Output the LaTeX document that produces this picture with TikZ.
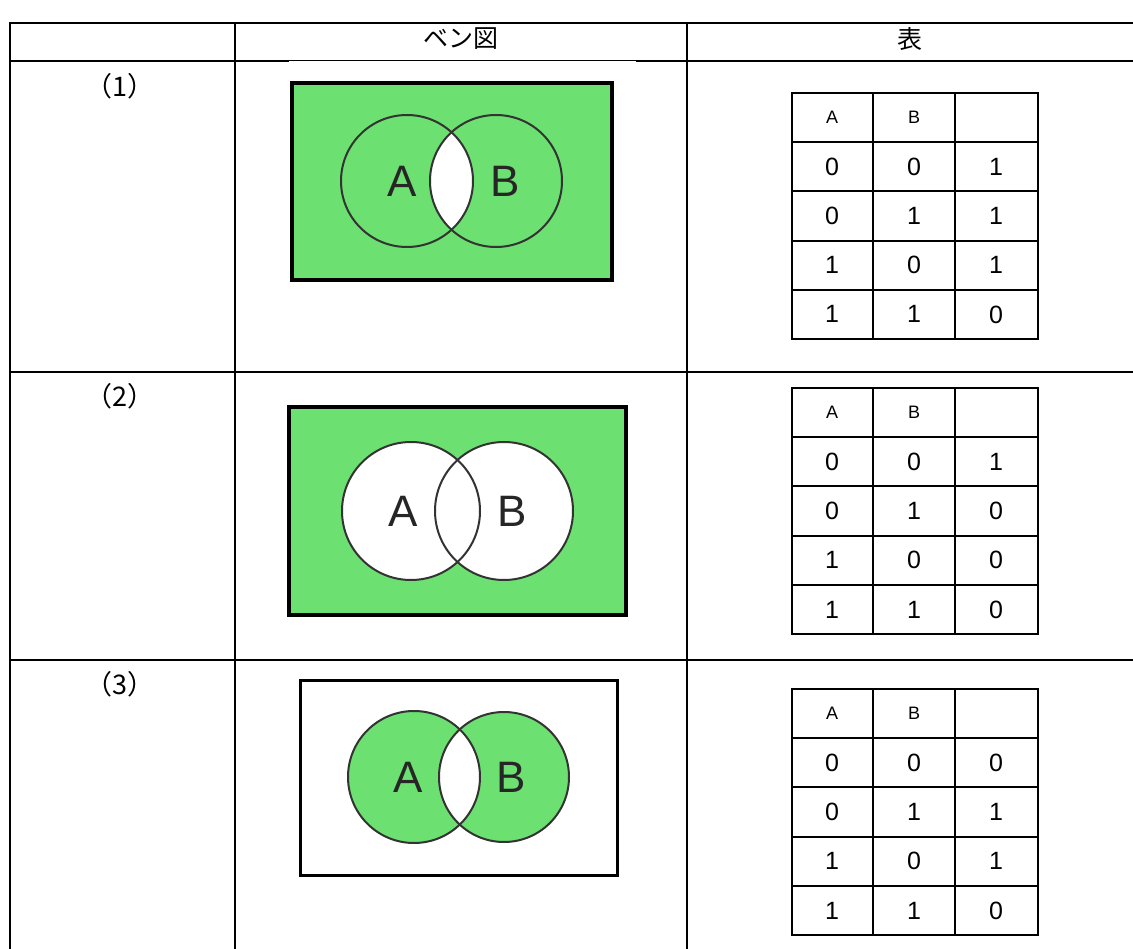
\documentclass[tikz,border=0pt]{standalone}
\usepackage{fontspec}
\setmainfont{Liberation Sans}
\newfontfamily\cjk{Noto Sans CJK JP}
\definecolor{venngreen}{RGB}{108,224,112}
\tikzset{
  gridline/.style={line width=2pt, black},
  thinline/.style={line width=1pt, black},
  vframe/.style={line width=4pt, black},
  circline/.style={draw=black!80, line width=2pt},
  ttline/.style={line width=2pt, black},
  cjklabel/.style={font=\cjk\fontsize{25}{25}\selectfont, inner sep=0pt},
  numlabel/.style={font=\cjk\fontsize{27}{27}\selectfont, inner sep=0pt},
  ttdigit/.style={font=\fontsize{25}{25}\selectfont, inner sep=0pt},
  tthead/.style={font=\fontsize{18}{18}\selectfont, inner sep=0pt},
  vennletter/.style={font=\fontsize{44}{44}\selectfont, inner sep=0pt, text=black!85},
}
% truth table: #1 name, #2 top y, #3-#6 outputs
\newcommand\mytruthtable[6]{%
  \draw[ttline] (792,#2) rectangle (1038,#2+246);
  \draw[ttline] (873,#2) -- (873,#2+246);
  \draw[ttline] (955,#2) -- (955,#2+246);
  \foreach \k in {1,...,4}{\draw[ttline] (792,#2+\k*49.2) -- (1038,#2+\k*49.2);}
  \node[tthead] (#1hA) at (832,#2+24.6) {A};
  \node[tthead] (#1hB) at (914,#2+24.6) {B};
  \node[ttdigit] (#1a1) at (832,#2+73.8) {0};
  \node[ttdigit] (#1b1) at (914,#2+73.8) {0};
  \node[ttdigit] (#1o1) at (996,#2+73.8) {#3};
  \node[ttdigit] (#1a2) at (832,#2+123) {0};
  \node[ttdigit] (#1b2) at (914,#2+123) {1};
  \node[ttdigit] (#1o2) at (996,#2+123) {#4};
  \node[ttdigit] (#1a3) at (832,#2+172.2) {1};
  \node[ttdigit] (#1b3) at (914,#2+172.2) {0};
  \node[ttdigit] (#1o3) at (996,#2+172.2) {#5};
  \node[ttdigit] (#1a4) at (832,#2+221.4) {1};
  \node[ttdigit] (#1b4) at (914,#2+221.4) {1};
  \node[ttdigit] (#1o4) at (996,#2+221.4) {#6};
}
\begin{document}
\begin{tikzpicture}[x=1pt,y=-1pt]
\useasboundingbox (0,0) rectangle (1133,949);
\fill[white] (0,0) rectangle (1133,949);

% ---- outer table ----
\draw[gridline] (10,23) -- (1134,23);
\draw[gridline] (10,22) -- (10,950);
\draw[gridline] (235,22) -- (235,950);
\draw[gridline] (687,22) -- (687,950);
\draw[gridline] (9,61) -- (289,61);
\draw[thinline] (289,60.5) -- (636,60.5);
\draw[gridline] (636,61) -- (1134,61);
\draw[gridline] (9,372) -- (1134,372);
\draw[gridline] (9,660) -- (1134,660);

\node[cjklabel] (hv) at (461,39) {ベン図};
\node[cjklabel] (ht) at (910,39) {表};
\node[numlabel] (l1) at (120,86) {（1）};
\node[numlabel] (l2) at (120,396) {（2）};
\node[numlabel] (l3) at (120,684) {（3）};

% ---- Venn 1 ----
\fill[venngreen] (292,83) rectangle (612,280);
\begin{scope}
  \clip (407,181) circle (66);
  \fill[white] (496,181) circle (66);
\end{scope}
\draw[circline] (407,181) circle (66);
\draw[circline] (496,181) circle (66);
\draw[vframe] (292,83) rectangle (612,280);
\node[vennletter] (v1a) at (402,181) {A};
\node[vennletter] (v1b) at (505,181) {B};

% ---- Venn 2 ----
\fill[venngreen] (289,407) rectangle (626,615);
\fill[white] (411,511) circle (69);
\fill[white] (504,511) circle (69);
\draw[circline] (411,511) circle (69);
\draw[circline] (504,511) circle (69);
\draw[vframe] (289,407) rectangle (626,615);
\node[vennletter] (v2a) at (403,511) {A};
\node[vennletter] (v2b) at (512,511) {B};

% ---- Venn 3 ----
\fill[venngreen] (414,777) circle (66);
\fill[venngreen] (504,777) circle (65);
\begin{scope}
  \clip (414,777) circle (66);
  \fill[white] (504,777) circle (65);
\end{scope}
\draw[circline] (414,777) circle (66);
\draw[circline] (504,777) circle (65);
\draw[line width=3pt] (300.5,680.5) rectangle (617.5,875.5);
\node[vennletter] (v3a) at (408,777) {A};
\node[vennletter] (v3b) at (511,777) {B};

% ---- truth tables ----
\mytruthtable{tA}{93}{1}{1}{1}{0}
\mytruthtable{tB}{388}{1}{0}{0}{0}
\mytruthtable{tC}{689}{0}{1}{1}{0}
\end{tikzpicture}
\end{document}
